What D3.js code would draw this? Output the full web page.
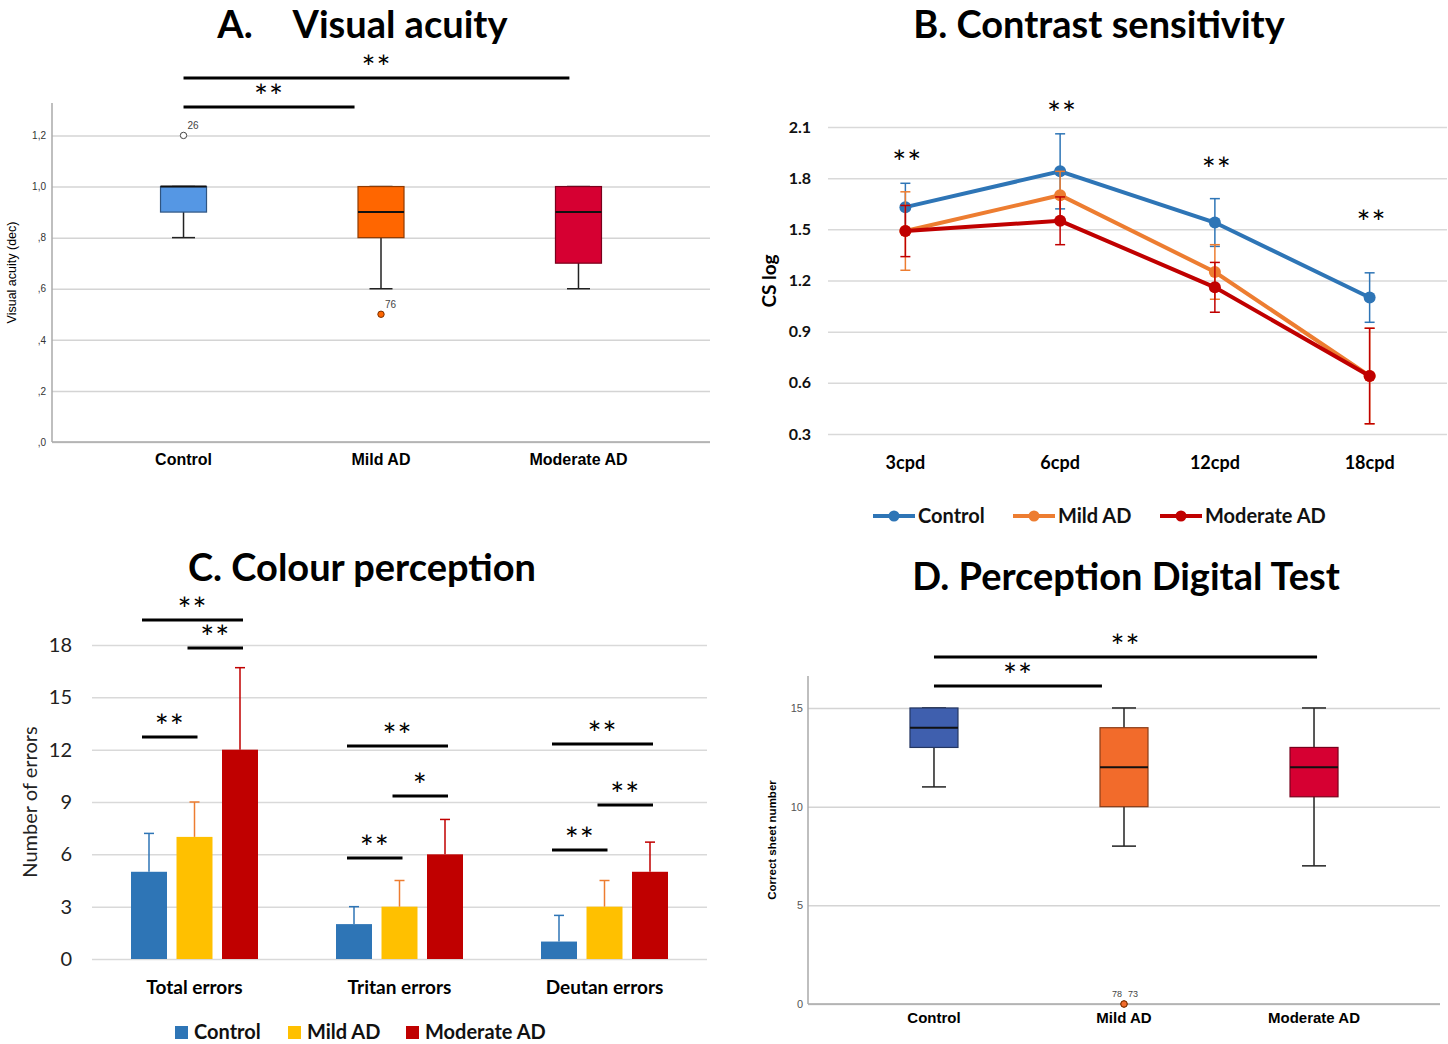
<!DOCTYPE html>
<html>
<head>
<meta charset="utf-8">
<script src="https://cdn.jsdelivr.net/npm/d3@7"></script>
<style>
  body { margin: 0; background: #fff; }
  svg { display: block; }
  .title { font-family: Lato, sans-serif; font-weight: bold; font-size: 38px; text-anchor: middle; fill: #000; }
  .spss text { font-family: 'Liberation Sans', Arial, sans-serif; }
  .office text { font-family: Lato, sans-serif; }
  svg text.sig { font-family: Lato, sans-serif; font-size: 33px; letter-spacing: 1px; text-anchor: middle; fill: #000; }
</style>
</head>
<body>
<svg id="chart" width="1448" height="1044"></svg>
<script>
const groups = ['Control', 'Mild AD', 'Moderate AD'];

// A. Visual acuity
const acuityBoxes = [
  { group: 'Control', low: 0.8, q1: 0.9, median: 1.0, q3: 1.0, high: 1.0 },
  { group: 'Mild AD', low: 0.6, q1: 0.8, median: 0.9, q3: 1.0, high: 1.0 },
  { group: 'Moderate AD', low: 0.6, q1: 0.7, median: 0.9, q3: 1.0, high: 1.0 },
];
const acuityOutliers = [
  { group: 'Control', value: 1.2, label: '26', filled: false },
  { group: 'Mild AD', value: 0.5, label: '76', filled: true },
];
const acuityTicks = [0, 0.2, 0.4, 0.6, 0.8, 1.0, 1.2];
const acuitySig = [
  { from: 0, to: 0.866, y: 1.311, label: '**' },
  { from: 0, to: 1.954, y: 1.425, label: '**' },
];

// B. Contrast sensitivity
const frequencies = ['3cpd', '6cpd', '12cpd', '18cpd'];
const csControl = [1.63, 1.84, 1.54, 1.10];
const csControlErr = [0.14, 0.22, 0.14, 0.145];
const csMild = [1.49, 1.70, 1.25, 0.64];
const csMildErr = [0.23, 0.14, 0.16, 0.28];
const csModerate = [1.49, 1.55, 1.16, 0.64];
const csModerateErr = [0.15, 0.14, 0.146, 0.28];
const csTicks = [0.3, 0.6, 0.9, 1.2, 1.5, 1.8, 2.1];
const csSig = [1.84, 2.13, 1.80, 1.49];

// C. Colour perception
const errorTypes = ['Total errors', 'Tritan errors', 'Deutan errors'];
const colourControl = [5, 2, 1];
const colourControlErr = [2.2, 1, 1.5];
const colourMild = [7, 3, 3];
const colourMildErr = [2, 1.5, 1.5];
const colourModerate = [12, 6, 5];
const colourModerateErr = [4.7, 2, 1.7];
const colourTicks = [0, 3, 6, 9, 12, 15, 18];
const colourSig = [
  { type: 'Total errors', from: 0, to: 1, y: 12.73, label: '**' },
  { type: 'Total errors', from: 0, to: 2, y: 19.43, label: '**' },
  { type: 'Total errors', from: 1, to: 2, y: 17.83, label: '**' },
  { type: 'Tritan errors', from: 0, to: 1, y: 5.79, label: '**' },
  { type: 'Tritan errors', from: 1, to: 2, y: 9.34, label: '*' },
  { type: 'Tritan errors', from: 0, to: 2, y: 12.21, label: '**' },
  { type: 'Deutan errors', from: 0, to: 1, y: 6.25, label: '**' },
  { type: 'Deutan errors', from: 1, to: 2, y: 8.83, label: '**' },
  { type: 'Deutan errors', from: 0, to: 2, y: 12.33, label: '**' },
];

// D. Perception Digital Test
const digitalBoxes = [
  { group: 'Control', low: 11, q1: 13, median: 14, q3: 15, high: 15 },
  { group: 'Mild AD', low: 8, q1: 10, median: 12, q3: 14, high: 15 },
  { group: 'Moderate AD', low: 7, q1: 10.5, median: 12, q3: 13, high: 15 },
];
const digitalOutliers = [
  { group: 'Mild AD', value: 0, label: '78', side: 'left' },
  { group: 'Mild AD', value: 0, label: '73', side: 'right' },
];
const digitalTicks = [0, 5, 10, 15];
const digitalSig = [
  { from: 0, to: 0.884, y: 16.11, label: '**' },
  { from: 0, to: 2.016, y: 17.58, label: '**' },
];

const svg = d3.select('#chart');

function sigBar(g, x1, x2, y, label) {
  g.append('line')
    .attr('x1', x1).attr('x2', x2).attr('y1', y).attr('y2', y)
    .attr('stroke', '#000').attr('stroke-width', 3);
  g.append('text').attr('class', 'sig')
    .attr('x', (x1 + x2) / 2).attr('y', y + 1)
    .text(label);
}

function drawBoxplot(cfg) {
  const g = svg.append('g').attr('class', 'spss');
  const x = d3.scalePoint().domain(groups).range([cfg.left, cfg.right]).padding(cfg.padding);
  const y = d3.scaleLinear().domain(cfg.domain).range([cfg.bottom, cfg.top]);
  const idx = d3.scaleLinear().domain([0, 1]).range([x(groups[0]), x(groups[1])]);

  g.append('g')
    .attr('transform', `translate(${cfg.left},0)`)
    .call(d3.axisLeft(y).tickValues(cfg.ticks).tickSize(-(cfg.right - cfg.left)).tickFormat(''))
    .call((s) => s.select('.domain').remove())
    .selectAll('line').attr('stroke', '#d4d4d4').attr('stroke-width', 1.5);

  g.append('g')
    .attr('transform', `translate(${cfg.left},0)`)
    .call(d3.axisLeft(y).tickValues(cfg.ticks).tickSize(0).tickPadding(cfg.tickPad).tickFormat(cfg.format))
    .call((s) => s.select('.domain').remove())
    .selectAll('text').attr('font-size', cfg.tickSize).attr('fill', cfg.tickColor)
    .attr('font-family', "'Liberation Sans', Arial, sans-serif");

  g.append('line')
    .attr('x1', cfg.left).attr('x2', cfg.left).attr('y1', cfg.top).attr('y2', cfg.bottom)
    .attr('stroke', '#aaa').attr('stroke-width', 1.5);
  g.append('line')
    .attr('x1', cfg.left).attr('x2', cfg.right).attr('y1', cfg.bottom).attr('y2', cfg.bottom)
    .attr('stroke', '#aaa').attr('stroke-width', 1.5);

  g.append('text')
    .attr('transform', `translate(${cfg.yLabelX},${(cfg.top + cfg.bottom) / 2}) rotate(-90)`)
    .attr('text-anchor', 'middle')
    .attr('font-size', cfg.yLabelSize)
    .attr('font-weight', cfg.yLabelWeight)
    .text(cfg.yLabel);

  g.selectAll('.xlab').data(groups).join('text')
    .attr('x', (d) => x(d)).attr('y', cfg.xLabelY)
    .attr('text-anchor', 'middle')
    .attr('font-size', cfg.xLabelSize).attr('font-weight', 'bold')
    .text((d) => d);

  const bw = cfg.boxWidth;
  const boxes = g.selectAll('.box').data(cfg.stats).join('g');
  boxes.append('line')
    .attr('x1', (d) => x(d.group)).attr('x2', (d) => x(d.group))
    .attr('y1', (d) => y(d.low)).attr('y2', (d) => y(d.high))
    .attr('stroke', '#222').attr('stroke-width', 1.5);
  boxes.selectAll('.cap').data((d) => [d, d].map((v, i) => ({ g: v.group, val: i ? v.high : v.low }))).join('line')
    .attr('x1', (d) => x(d.g) - bw / 4).attr('x2', (d) => x(d.g) + bw / 4)
    .attr('y1', (d) => y(d.val)).attr('y2', (d) => y(d.val))
    .attr('stroke', '#222').attr('stroke-width', 1.5);
  boxes.append('rect')
    .attr('x', (d) => x(d.group) - bw / 2).attr('width', bw)
    .attr('y', (d) => y(d.q3)).attr('height', (d) => y(d.q1) - y(d.q3))
    .attr('fill', (d, i) => cfg.colors[i])
    .attr('stroke', (d, i) => d3.color(cfg.colors[i]).darker(1.6))
    .attr('stroke-width', 1.2);
  boxes.append('line')
    .attr('x1', (d) => x(d.group) - bw / 2).attr('x2', (d) => x(d.group) + bw / 2)
    .attr('y1', (d) => y(d.median)).attr('y2', (d) => y(d.median))
    .attr('stroke', '#111').attr('stroke-width', 2);

  cfg.outliers.forEach((o) => {
    const cx = x(o.group), cy = y(o.value);
    g.append('circle')
      .attr('cx', cx).attr('cy', cy).attr('r', 3.2)
      .attr('fill', o.filled === false ? '#fff' : cfg.colors[groups.indexOf(o.group)])
      .attr('stroke', o.filled === false ? '#444' : '#7a3000').attr('stroke-width', 1);
    const dx = o.side === 'left' ? -12 : 4;
    g.append('text')
      .attr('x', cx + dx).attr('y', cy - (o.side ? 7 : 6))
      .attr('font-size', cfg.outlierSize).attr('fill', '#444')
      .text(o.label);
  });

  cfg.sig.forEach((s) => sigBar(g, idx(s.from), idx(s.to), y(s.y), s.label));
}

function acuityFormat(d) {
  const s = d3.format('.1f')(d).replace('.', ',');
  return s.startsWith('0') ? s.slice(1) : s;
}

// A
svg.append('text').attr('class', 'title').attr('x', 235).attr('y', 38).text('A.');
svg.append('text').attr('class', 'title').attr('x', 400).attr('y', 38).text('Visual acuity');
drawBoxplot({
  left: 52, right: 710, top: 103, bottom: 442, padding: 0.666,
  domain: [0, 1.327], ticks: acuityTicks, format: acuityFormat,
  tickPad: 6, tickSize: 10, tickColor: '#333',
  yLabel: 'Visual acuity (dec)', yLabelX: 16, yLabelSize: 12.5, yLabelWeight: 'normal',
  xLabelY: 465, xLabelSize: 16, boxWidth: 46, outlierSize: 10,
  stats: acuityBoxes, outliers: acuityOutliers, sig: acuitySig,
  colors: ['#5597e4', '#ff6600', '#d60032'],
});

// D
svg.append('text').attr('class', 'title').attr('x', 1126).attr('y', 590).text('D. Perception Digital Test');
drawBoxplot({
  left: 808, right: 1440, top: 676, bottom: 1004, padding: 0.663,
  domain: [0, 16.62], ticks: digitalTicks, format: d3.format('d'),
  tickPad: 5, tickSize: 11, tickColor: '#555',
  yLabel: 'Correct sheet number', yLabelX: 776, yLabelSize: 11.5, yLabelWeight: 'bold',
  xLabelY: 1023, xLabelSize: 15, boxWidth: 48, outlierSize: 9,
  stats: digitalBoxes, outliers: digitalOutliers, sig: digitalSig,
  colors: ['#3f5fae', '#f26b2b', '#d60032'],
});

// B
function drawContrast() {
  const g = svg.append('g').attr('class', 'office');
  const left = 828, right = 1447;
  const x = d3.scalePoint().domain(frequencies).range([left, right]).padding(0.5);
  const y = d3.scaleLinear().domain([0.3, 2.1]).range([434, 127]);
  const series = [
    { name: 'Control', values: csControl, err: csControlErr, color: '#2e75b6' },
    { name: 'Mild AD', values: csMild, err: csMildErr, color: '#ed7d31' },
    { name: 'Moderate AD', values: csModerate, err: csModerateErr, color: '#c00000' },
  ];

  svg.append('text').attr('class', 'title').attr('x', 1099).attr('y', 38).text('B. Contrast sensitivity');

  g.append('g')
    .attr('transform', `translate(${left},0)`)
    .call(d3.axisLeft(y).tickValues(csTicks).tickSize(-(right - left)).tickPadding(17).tickFormat(d3.format('.1f')))
    .call((s) => s.select('.domain').remove())
    .call((s) => s.selectAll('line').attr('stroke', '#d9d9d9').attr('stroke-width', 1.5))
    .call((s) => s.selectAll('text').attr('font-size', 16).attr('font-weight', 'bold').attr('fill', '#111')
      .attr('font-family', 'Lato, sans-serif'));

  g.selectAll('.xlab').data(frequencies).join('text')
    .attr('x', (d) => x(d)).attr('y', 469)
    .attr('text-anchor', 'middle').attr('font-size', 18).attr('font-weight', 'bold')
    .text((d) => d);

  g.append('text')
    .attr('transform', 'translate(776,281) rotate(-90)')
    .attr('text-anchor', 'middle').attr('font-size', 19).attr('font-weight', 'bold')
    .text('CS log');

  const line = d3.line().x((d, i) => x(frequencies[i])).y((d) => y(d));

  series.forEach((s) => {
    g.append('path').datum(s.values)
      .attr('d', line).attr('fill', 'none')
      .attr('stroke', s.color).attr('stroke-width', 4);
    const eb = g.append('g').attr('stroke', s.color).attr('stroke-width', 1.5);
    s.values.forEach((v, i) => {
      const cx = x(frequencies[i]);
      eb.append('line').attr('x1', cx).attr('x2', cx).attr('y1', y(v - s.err[i])).attr('y2', y(v + s.err[i]));
      [v - s.err[i], v + s.err[i]].forEach((e) => {
        eb.append('line').attr('x1', cx - 5).attr('x2', cx + 5).attr('y1', y(e)).attr('y2', y(e));
      });
    });
    g.selectAll(null).data(s.values).join('circle')
      .attr('cx', (d, i) => x(frequencies[i])).attr('cy', (d) => y(d))
      .attr('r', 6).attr('fill', s.color);
  });

  frequencies.forEach((f, i) => {
    g.append('text').attr('class', 'sig')
      .attr('x', x(f) + 2).attr('y', y(csSig[i]) + 3)
      .text('**');
  });

  const legend = g.append('g');
  const legendX = [873, 1013, 1160];
  series.forEach((s, i) => {
    const lx = legendX[i];
    legend.append('line').attr('x1', lx).attr('x2', lx + 42).attr('y1', 516).attr('y2', 516)
      .attr('stroke', s.color).attr('stroke-width', 4);
    legend.append('circle').attr('cx', lx + 21).attr('cy', 516).attr('r', 5.5).attr('fill', s.color);
    legend.append('text').attr('x', lx + 45).attr('y', 523)
      .attr('font-size', 20).attr('font-weight', 'bold').attr('fill', '#111')
      .text(s.name);
  });
}
drawContrast();

// C
function drawColour() {
  const g = svg.append('g').attr('class', 'office');
  const left = 92, right = 707;
  const x0 = d3.scaleBand().domain(errorTypes).range([left, right]);
  const x1 = d3.scaleBand().domain(groups).range([-68.25, 68.25]).paddingInner(0.209).paddingOuter(0.1045);
  const y = d3.scaleLinear().domain([0, 18]).range([959, 645]);
  const center = (t) => x0(t) + x0.bandwidth() / 2;
  const series = [
    { name: 'Control', values: colourControl, err: colourControlErr, color: '#2e75b6', errColor: '#2e75b6' },
    { name: 'Mild AD', values: colourMild, err: colourMildErr, color: '#ffc000', errColor: '#ed7d31' },
    { name: 'Moderate AD', values: colourModerate, err: colourModerateErr, color: '#c00000', errColor: '#c00000' },
  ];

  svg.append('text').attr('class', 'title').attr('x', 362).attr('y', 581).text('C. Colour perception');

  g.append('g')
    .attr('transform', `translate(${left},0)`)
    .call(d3.axisLeft(y).tickValues(colourTicks).tickSize(-(right - left)).tickPadding(20).tickFormat(d3.format('d')))
    .call((s) => s.select('.domain').remove())
    .call((s) => s.selectAll('line').attr('stroke', '#d9d9d9').attr('stroke-width', 1.5))
    .call((s) => s.selectAll('text').attr('font-size', 20).attr('fill', '#222')
      .attr('font-family', 'Lato, sans-serif'));

  g.append('text')
    .attr('transform', 'translate(37,802) rotate(-90)')
    .attr('text-anchor', 'middle').attr('font-size', 20).attr('fill', '#222')
    .text('Number of errors');

  g.selectAll('.xlab').data(errorTypes).join('text')
    .attr('x', (d) => center(d)).attr('y', 994)
    .attr('text-anchor', 'middle').attr('font-size', 19).attr('font-weight', 'bold')
    .text((d) => d);

  series.forEach((s) => {
    const bars = g.append('g');
    s.values.forEach((v, i) => {
      const bx = center(errorTypes[i]) + x1(s.name);
      const cx = bx + x1.bandwidth() / 2;
      bars.append('rect')
        .attr('x', bx).attr('width', x1.bandwidth())
        .attr('y', y(v)).attr('height', y(0) - y(v))
        .attr('fill', s.color);
      bars.append('line').attr('x1', cx).attr('x2', cx).attr('y1', y(v)).attr('y2', y(v + s.err[i]))
        .attr('stroke', s.errColor).attr('stroke-width', 1.5);
      bars.append('line').attr('x1', cx - 5).attr('x2', cx + 5).attr('y1', y(v + s.err[i])).attr('y2', y(v + s.err[i]))
        .attr('stroke', s.errColor).attr('stroke-width', 1.5);
    });
  });

  colourSig.forEach((s) => {
    const c = center(s.type);
    const xa = c + x1(groups[s.from]) + x1.bandwidth() / 2 - 7;
    const xb = c + x1(groups[s.to]) + x1.bandwidth() / 2 + 3;
    sigBar(g, xa, xb, y(s.y), s.label);
  });

  const legendX = [175, 288, 406];
  series.forEach((s, i) => {
    g.append('rect').attr('x', legendX[i]).attr('y', 1026).attr('width', 13).attr('height', 13).attr('fill', s.color);
    g.append('text').attr('x', legendX[i] + 19).attr('y', 1039)
      .attr('font-size', 20).attr('font-weight', 'bold').attr('fill', '#111')
      .text(s.name);
  });
}
drawColour();
</script>
</body>
</html>
